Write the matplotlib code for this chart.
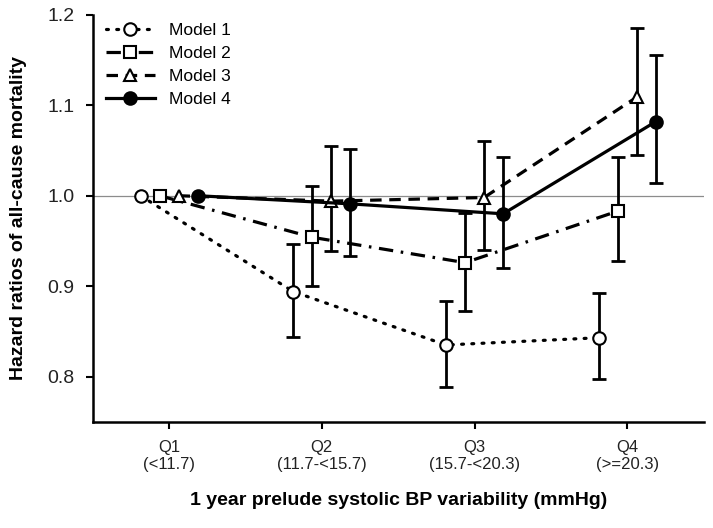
import matplotlib
matplotlib.use("Agg")
import matplotlib.pyplot as plt
import numpy as np

plt.rcParams["font.family"] = ["Liberation Sans", "DejaVu Sans"]

# ---- data ----
quartiles = ["Q1\n(<11.7)", "Q2\n(11.7-<15.7)", "Q3\n(15.7-<20.3)", "Q4\n(>=20.3)"]
models = ["Model 1", "Model 2", "Model 3", "Model 4"]

hr_m1 = [1.000, 0.894, 0.835, 0.843]
lo_m1 = [1.000, 0.844, 0.788, 0.797]
hi_m1 = [1.000, 0.947, 0.884, 0.893]

hr_m2 = [1.000, 0.954, 0.926, 0.983]
lo_m2 = [1.000, 0.900, 0.873, 0.928]
hi_m2 = [1.000, 1.011, 0.981, 1.043]

hr_m3 = [1.000, 0.994, 0.998, 1.109]
lo_m3 = [1.000, 0.939, 0.940, 1.045]
hi_m3 = [1.000, 1.055, 1.061, 1.185]

hr_m4 = [1.000, 0.991, 0.980, 1.082]
lo_m4 = [1.000, 0.933, 0.920, 1.014]
hi_m4 = [1.000, 1.052, 1.043, 1.155]

# ---- styles ----
offsets = [-0.187, -0.062, 0.062, 0.187]
styles = [
    dict(ls=(0, (0.6, 2.6)), marker="o", mfc="white"),
    dict(ls=(0, (4.5, 2.4, 0.8, 2.4)), marker="s", mfc="white"),
    dict(ls=(0, (3.6, 2.4)), marker="^", mfc="white"),
    dict(ls="-", marker="o", mfc="black"),
]

fig = plt.figure(figsize=(7.13, 5.28), dpi=100)
ax = fig.add_axes([0.130, 0.201, 0.857, 0.771])

ax.axhline(1.0, color="#8c8c8c", lw=0.9, zorder=1)

x = np.arange(1, 5)
series = [(hr_m1, lo_m1, hi_m1), (hr_m2, lo_m2, hi_m2),
          (hr_m3, lo_m3, hi_m3), (hr_m4, lo_m4, hi_m4)]
for name, (hr, lo, hi), off, st in zip(models, series, offsets, styles):
    xs = x + off
    hr = np.array(hr); lo = np.array(lo); hi = np.array(hi)
    # Q1 is the reference category -> no error bar
    ax.errorbar(xs[1:], hr[1:], yerr=[hr[1:] - lo[1:], hi[1:] - hr[1:]],
                fmt="none", ecolor="black", elinewidth=2.0, capsize=5, capthick=2.0, zorder=2)
    ax.plot(xs, hr, color="black", lw=2.3, linestyle=st["ls"], marker=st["marker"],
            markersize=9 if st["marker"] != "s" else 8.5, mfc=st["mfc"], mec="black",
            mew=1.5, label=name, zorder=3,
            dash_capstyle="round" if name == "Model 1" else "butt")

ax.set_xlim(0.5, 4.5)
ax.set_ylim(0.75, 1.2)
ax.set_xticks(x)
ax.set_xticklabels(quartiles, fontsize=12)
ax.set_yticks([0.8, 0.9, 1.0, 1.1, 1.2])
ax.set_yticklabels(["0.8", "0.9", "1.0", "1.1", "1.2"], fontsize=14)
ax.tick_params(axis="both", direction="out", length=5, width=1.5, colors="black")
ax.tick_params(axis="x", pad=8, labelcolor="#222222")
ax.tick_params(axis="y", pad=8, labelcolor="#222222")

for s in ["top", "right"]:
    ax.spines[s].set_visible(False)
for s in ["left", "bottom"]:
    ax.spines[s].set_linewidth(1.8)

ax.set_xlabel("1 year prelude systolic BP variability (mmHg)", fontsize=14,
              fontweight="bold", labelpad=14)
ax.set_ylabel("Hazard ratios of all-cause mortality", fontsize=14,
              fontweight="bold", labelpad=15)

ax.legend(loc="upper left", frameon=False, fontsize=12.5, handlelength=2.8,
          borderaxespad=0.2, labelspacing=0.45, handletextpad=0.8,
          bbox_to_anchor=(0.005, 1.005))

fig.savefig("out.png", dpi=100)
